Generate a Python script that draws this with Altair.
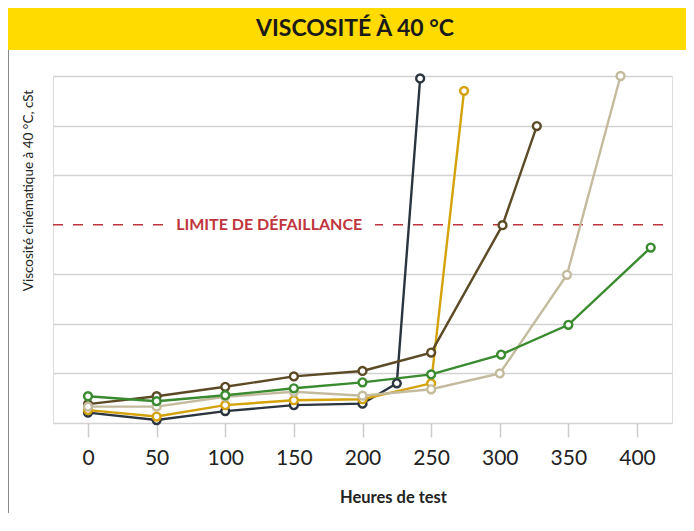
import altair as alt
import pandas as pd

# ---- data (viscosity in grid units, 1 unit per gridline) ----
series_names = ["Huile 1", "Huile 2", "Huile 3", "Huile 4", "Huile 5"]
series_colors = ["#2b3540", "#d4a20a", "#5b4a25", "#c4bb9f", "#3a8a30"]

hours_1 = [0, 50, 100, 150, 200, 225, 242]
visc_1 = [0.21, 0.06, 0.24, 0.36, 0.39, 0.80, 6.95]

hours_2 = [0, 50, 100, 150, 200, 250, 274]
visc_2 = [0.26, 0.13, 0.36, 0.46, 0.48, 0.80, 6.70]

hours_3 = [0, 50, 100, 150, 200, 250, 302, 327]
visc_3 = [0.38, 0.54, 0.73, 0.94, 1.05, 1.42, 3.99, 5.99]

hours_4 = [0, 50, 100, 150, 200, 250, 300, 349, 388]
visc_4 = [0.33, 0.33, 0.53, 0.63, 0.55, 0.68, 1.00, 2.99, 7.00]

hours_5 = [0, 50, 100, 150, 200, 250, 301, 350, 410]
visc_5 = [0.54, 0.44, 0.56, 0.70, 0.82, 0.98, 1.38, 1.98, 3.54]

x_ticks = [0, 50, 100, 150, 200, 250, 300, 350, 400]
grid_values = [0, 1, 2, 3, 5, 6, 7]
limit_value = 4
limit_label = "LIMITE DE DÉFAILLANCE"
limit_label_x = 132
title_text = "VISCOSITÉ À 40 °C"
x_title = "Heures de test"
y_title = "Viscosité cinématique à 40 °C, cSt"

rows = []
for name, hs, vs in zip(series_names,
                        [hours_1, hours_2, hours_3, hours_4, hours_5],
                        [visc_1, visc_2, visc_3, visc_4, visc_5]):
    for i, (h, v) in enumerate(zip(hs, vs)):
        rows.append({"serie": name, "heures": h, "visc": v, "idx": i})
df = pd.DataFrame(rows)

W, H = 619, 347
FONT = "Lato, 'Open Sans', sans-serif"

xscale = alt.Scale(domain=[-25.5, 425.5], nice=False, zero=False)
yscale = alt.Scale(domain=[0, 7], nice=False, zero=False)
cscale = alt.Scale(domain=series_names, range=series_colors)

x_enc = alt.X("heures:Q", scale=xscale, axis=alt.Axis(
    values=x_ticks, grid=False, domain=False, ticks=True, tickColor="#cccccc",
    tickWidth=1.5, tickSize=14, labelFontSize=21, labelFont=FONT, labelColor="#222222",
    labelFontWeight="normal", labelPadding=10, title=x_title, titleFont=FONT,
    titleFontSize=16.5, titleFontWeight="bold", titleColor="#222222", titleX=340,
    titleY=74, titleBaseline="middle", titleAlign="center"))
y_enc = alt.Y("visc:Q", scale=yscale, axis=alt.Axis(
    values=grid_values, grid=True, gridColor="#d2d2d2", gridWidth=1.6, domain=False,
    ticks=False, labels=False, title=y_title, titleFont=FONT, titleFontSize=13.5,
    titleFontWeight="normal", titleColor="#222222", titleX=-25, titleY=114,
    titleAlign="center", titleBaseline="middle", titleAngle=270))

base = alt.Chart(df)

lines = base.mark_line(strokeWidth=2.4).encode(
    x=x_enc, y=y_enc,
    color=alt.Color("serie:N", scale=cscale, legend=None),
    order="idx:Q",
)
points = base.mark_point(shape="circle", size=62, strokeWidth=2.4, opacity=1).encode(
    x="heures:Q", y="visc:Q",
    stroke=alt.Stroke("serie:N", scale=cscale, legend=None),
    fill=alt.value("white"),
)

limit_df = pd.DataFrame({"y": [limit_value], "label": [limit_label], "x": [limit_label_x]})
limit_rule = alt.Chart(limit_df).mark_rule(color="#c0353d", strokeWidth=1.6, strokeDash=[10, 10]).encode(
    y="y:Q", x=alt.value(0), x2=alt.value(W))
limit_bg = alt.Chart(limit_df).mark_rect(color="white").encode(
    x=alt.value(112), x2=alt.value(322), y=alt.value(139), y2=alt.value(159))
limit_text = alt.Chart(limit_df).mark_text(
    font=FONT, fontSize=16, fontWeight="bold", color="#c0353d", align="center", baseline="middle"
).encode(x="x:Q", y="y:Q", text="label:N")

band = alt.Chart(limit_df).mark_rect(color="#ffdb00").encode(
    x=alt.value(-45), x2=alt.value(W + 30), y=alt.value(-68), y2=alt.value(-26))
title = alt.Chart(pd.DataFrame({"t": [title_text]})).mark_text(
    font=FONT, fontSize=23, fontWeight="bold", color="#1a1a1a", align="center", baseline="middle"
).encode(x=alt.value(302), y=alt.value(-47), text="t:N")
border = alt.Chart(limit_df).mark_rule(color="#8a8a8a", strokeWidth=1).encode(
    x=alt.value(-44.5), y=alt.value(-26), y2=alt.value(440))

chart = alt.layer(
    band, title, border, limit_rule, limit_bg, limit_text, lines, points
).properties(
    width=W, height=H,
    autosize=alt.AutoSizeParams(type="none"),
    padding={"left": 45, "top": 68, "right": 14, "bottom": 90},
).configure_view(stroke=None).configure(background="white")

chart.save("out.html", embed_options={"renderer": "svg", "actions": False})
